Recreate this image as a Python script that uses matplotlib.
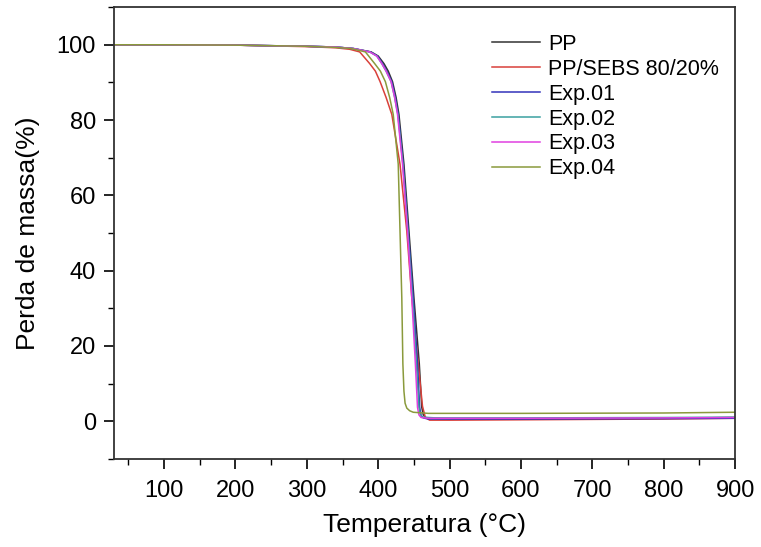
import matplotlib.pyplot as plt
from matplotlib.ticker import MultipleLocator

plt.rcParams['font.family'] = ['Liberation Sans', 'DejaVu Sans']

t_pp = [30, 100, 200, 300, 340, 365, 390, 400, 408, 414, 420, 425, 429, 436, 443, 450, 457.5, 461, 463, 466, 475, 500, 600, 800, 900]
m_pp = [100, 100, 99.9, 99.6, 99.4, 99.0, 98.1, 97, 95, 93, 90.2, 86, 81.5, 68.3, 50.5, 32.8, 15.3, 3.7, 1.8, 1.0, 0.8, 0.7, 0.7, 0.8, 1.0]

t_sebs = [30, 100, 200, 300, 340, 360, 374, 388, 396, 402.6, 411, 419, 430.5, 440, 447, 456, 462, 466, 472, 500, 600, 700, 800, 900]
m_sebs = [100, 100, 99.9, 99.5, 99.2, 98.8, 98.1, 95, 93, 90.2, 86, 81.5, 68.3, 50.5, 32.8, 15.3, 4, 1.0, 0.3, 0.3, 0.4, 0.5, 0.6, 0.8]

t_exp01 = [30, 100, 200, 300, 340, 365, 389, 399, 406, 412, 419, 424, 428, 435, 442, 449, 455, 458, 460, 463, 470, 600, 800, 900]
m_exp01 = [100, 100, 99.9, 99.6, 99.4, 99.0, 98.1, 97, 95, 93, 90.2, 86, 81.5, 68.3, 50.5, 32.8, 15.3, 3.7, 1.6, 0.9, 0.6, 0.6, 0.7, 0.8]

t_exp02 = [30, 100, 200, 300, 340, 365, 388, 398, 405, 411, 418, 423, 427.5, 434.5, 441.5, 448, 453.5, 457, 459, 462, 480, 600, 800, 900]
m_exp02 = [100, 100, 99.9, 99.6, 99.4, 99.0, 98.1, 97, 95, 93, 90.2, 86, 81.5, 68.3, 50.5, 32.8, 15.3, 3.7, 1.8, 1.1, 0.9, 0.9, 1.0, 1.1]

t_exp03 = [30, 100, 200, 300, 340, 365, 388, 398, 405, 411, 418, 423, 427, 434, 441, 447, 452, 455, 457, 460, 470, 600, 800, 900]
m_exp03 = [100, 100, 99.9, 99.6, 99.4, 99.0, 98.1, 97, 95, 93, 90.2, 86, 81.5, 68.3, 50.5, 32.8, 15.3, 3.7, 1.7, 1.0, 0.8, 0.8, 0.9, 1.0]

t_exp04 = [30, 100, 200, 300, 340, 362, 382, 395, 403, 410, 416, 421, 428, 430.5, 433, 434.5, 436, 437.6, 440, 444, 449, 470, 600, 800, 900]
m_exp04 = [100, 100, 99.9, 99.6, 99.3, 99.0, 98.1, 95, 93, 90.2, 86, 81.5, 68.3, 50.5, 32.8, 15.3, 8, 4.8, 3.5, 2.8, 2.4, 2.1, 2.1, 2.2, 2.4]

series = [
    (t_pp, m_pp, 'PP', '#333333'),
    (t_sebs, m_sebs, 'PP/SEBS 80/20%', '#d9403a'),
    (t_exp01, m_exp01, 'Exp.01', '#3333bb'),
    (t_exp02, m_exp02, 'Exp.02', '#3aa0a0'),
    (t_exp03, m_exp03, 'Exp.03', '#e040e0'),
    (t_exp04, m_exp04, 'Exp.04', '#8a9a3c'),
]

fig = plt.figure(figsize=(7.61, 5.47), dpi=100)
ax = fig.add_axes([0.150, 0.161, 0.816, 0.826])

for t, m, lab, cor in series:
    ax.plot(t, m, color=cor, linewidth=1.1, label=lab)

ax.set_xlim(30, 900)
ax.set_ylim(-10, 110)
ax.xaxis.set_minor_locator(MultipleLocator(50))
ax.yaxis.set_major_locator(MultipleLocator(20))
ax.yaxis.set_minor_locator(MultipleLocator(10))
ax.set_xticks(range(100, 901, 100))
ax.tick_params(which='major', direction='out', length=7, width=1.2, labelsize=17, top=False, right=False)
ax.tick_params(axis='x', which='major', pad=8)
ax.tick_params(axis='y', which='major', pad=6)
ax.tick_params(which='minor', direction='out', length=4, width=1.0, top=False, right=False)
for s in ax.spines.values():
    s.set_linewidth(1.3)
    s.set_color('#333333')

ax.set_xlabel('Temperatura (°C)', fontsize=19, labelpad=8)
ax.set_ylabel('Perda de massa(%)', fontsize=19, labelpad=12)

leg = ax.legend(loc='upper left', bbox_to_anchor=(0.647, 0.938), bbox_transform=fig.transFigure,
                frameon=False, fontsize=15.5, handlelength=2.2, handletextpad=0.4,
                labelspacing=0.18, borderpad=0, borderaxespad=0)

fig.savefig('out.png', dpi=100)
